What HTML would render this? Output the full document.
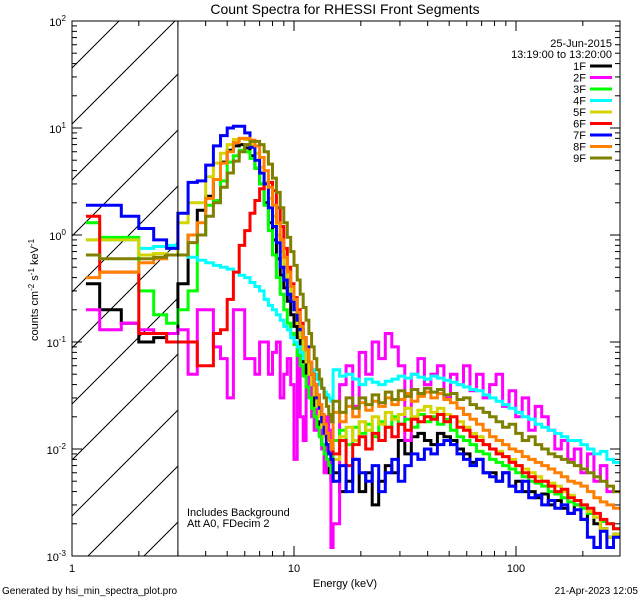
<!DOCTYPE html>
<html><head><meta charset="utf-8">
<style>
html,body{margin:0;padding:0;background:#fff;}
svg{display:block;font-family:"Liberation Sans","DejaVu Sans",sans-serif;}
</style></head>
<body>
<svg id="chart" width="640" height="600" viewBox="0 0 640 600" xmlns="http://www.w3.org/2000/svg">
<rect x="0" y="0" width="640" height="600" fill="#fff"/>
<text x="345" y="14" font-size="14" text-anchor="middle">Count Spectra for RHESSI Front Segments</text>
<defs><clipPath id="hatchClip"><rect x="72" y="21" width="106" height="535"/></clipPath>
<clipPath id="plotClip"><rect x="72" y="21" width="548" height="535"/></clipPath></defs>
<g id="hatch" clip-path="url(#hatchClip)"></g>
<g id="series" clip-path="url(#plotClip)"></g>
<g id="axes"></g>
<text x="612" y="47" font-size="11" text-anchor="end">25-Jun-2015</text>
<text x="612" y="58" font-size="11" text-anchor="end">13:19:00 to 13:20:00</text>
<g id="legend"></g>
<text x="187" y="516" font-size="11">Includes Background</text>
<text x="187" y="527" font-size="11">Att A0, FDecim 2</text>
<text x="345" y="587" font-size="11" text-anchor="middle">Energy (keV)</text>
<text transform="translate(38,290) rotate(-90)" font-size="11" text-anchor="middle">counts cm<tspan dy="-4" font-size="8">-2</tspan><tspan dy="4"> s</tspan><tspan dy="-4" font-size="8">-1</tspan><tspan dy="4"> keV</tspan><tspan dy="-4" font-size="8">-1</tspan></text>
<text x="2" y="594" font-size="10">Generated by hsi_min_spectra_plot.pro</text>
<text x="638" y="594" font-size="10" text-anchor="end">21-Apr-2023 12:05</text>
</svg>
<script>
const seriesNames = ["1F","2F","3F","4F","5F","6F","7F","8F","9F"];
const seriesColors = ["#000000","#ff00ff","#00ff00","#00ffff","#d4d400","#ff0000","#0000ff","#ff8000","#808000"];
const xTickValues = [1,10,100];
const xTickLabels = ["1","10","100"];
const yTickExponents = [-3,-2,-1,0,1,2];
const lowEdges = [1.155,1.333,1.667,2,2.333,2.667,3];
const s1F = [0.35,0.2,0.15,0.1,0.11,0.12, 0.35,1.0,1.7,2.3,3.3,4.8,6.2,6.8,7.0,6.5,5.5,4.2,3.0,2.0,1.3,0.9,0.6,0.42,0.32,0.24,0.18,0.14,0.11,0.085,0.065,0.05,0.038,0.03,0.023,0.018,0.014,0.011,0.009,0.007,0.006,0.005,
0.006,0.004,0.005,0.008,0.004,0.006,0.003,0.005,0.007,0.006,0.012,0.009,0.013,0.014,0.012,0.011,0.014,0.013,0.012,0.01,0.009,0.0075,0.008,0.006,0.006,0.005,0.006,0.0045,0.005,0.004,0.004,0.0035,0.0038,0.003,0.0033,0.0028,0.0025,0.003,0.0022,0.0025,0.002,0.0018,0.0015,0.0016];
const s2F = [0.2,0.13,0.15,0.13,0.12,0.12, 0.13,0.05,0.2,0.2,0.09,0.07,0.03,0.2,0.2,0.07,0.07,0.05,0.1,0.1,0.05,0.08,0.1,0.03,0.05,0.07,0.04,0.008,0.08,0.02,0.012,0.04,0.06,0.02,0.015,0.03,0.02,0.01,0.006,0.02,0.015,0.0012,
0.002,0.04,0.06,0.025,0.08,0.05,0.1,0.07,0.12,0.09,0.06,0.012,0.05,0.07,0.04,0.05,0.06,0.03,0.05,0.04,0.06,0.035,0.05,0.03,0.04,0.05,0.025,0.035,0.02,0.03,0.015,0.025,0.02,0.015,0.01,0.012,0.008,0.01,0.006,0.009,0.005,0.007,0.004,0.004];
const s3F = [1.3,0.95,0.95,0.3,0.18,0.15, 0.2,0.3,1.0,1.9,2.1,3.2,4.8,5.5,6.2,6.0,5.2,4.2,3.0,1.9,1.1,0.65,0.4,0.28,0.2,0.15,0.12,0.095,0.075,0.06,0.048,0.038,0.03,0.024,0.02,0.016,0.013,0.011,0.009,0.008,0.007,0.006,
0.012,0.015,0.011,0.016,0.014,0.017,0.013,0.018,0.016,0.02,0.017,0.019,0.016,0.021,0.018,0.02,0.017,0.019,0.015,0.013,0.012,0.011,0.0095,0.009,0.008,0.0075,0.007,0.0065,0.006,0.0055,0.005,0.0048,0.0045,0.004,0.0038,0.0035,0.0032,0.003,0.0028,0.0025,0.0023,0.0021,0.002,0.0018];
const s4F = [0.9,0.9,0.9,0.75,0.78,0.8, 0.65,0.62,0.58,0.55,0.52,0.5,0.48,0.45,0.42,0.4,0.36,0.33,0.3,0.25,0.22,0.2,0.18,0.16,0.14,0.13,0.11,0.1,0.09,0.08,0.07,0.065,0.06,0.055,0.05,0.045,0.04,0.037,0.034,0.032,0.03,0.028,
0.055,0.048,0.05,0.045,0.04,0.045,0.042,0.04,0.043,0.045,0.048,0.046,0.05,0.047,0.045,0.048,0.046,0.044,0.042,0.04,0.038,0.036,0.035,0.032,0.03,0.028,0.026,0.024,0.022,0.02,0.019,0.017,0.016,0.015,0.014,0.013,0.012,0.012,0.011,0.01,0.009,0.0095,0.008,0.0075];
const s5F = [0.9,0.9,0.9,0.65,0.67,0.65, 1.3,2.0,2.0,3.5,4.7,5.8,7.0,7.8,8.0,7.8,7.0,5.8,4.3,3.1,2.2,1.5,1.0,0.7,0.5,0.36,0.27,0.2,0.15,0.11,0.085,0.065,0.05,0.04,0.032,0.025,0.02,0.016,0.013,0.011,0.009,0.008,
0.008,0.013,0.016,0.012,0.018,0.015,0.02,0.017,0.022,0.019,0.021,0.024,0.02,0.023,0.025,0.022,0.024,0.021,0.02,0.018,0.016,0.014,0.013,0.011,0.01,0.0095,0.0085,0.008,0.007,0.0065,0.006,0.0055,0.005,0.0048,0.0045,0.004,0.0037,0.0033,0.003,0.0026,0.0023,0.0018,0.0015,0.0016];
const s6F = [1.5,0.45,0.45,0.12,0.12,0.1, 0.1,0.1,0.06,0.06,0.12,0.13,0.25,0.45,0.8,1.1,1.6,2.1,2.7,3.0,3.1,2.6,1.8,1.2,0.75,0.5,0.35,0.26,0.2,0.15,0.11,0.085,0.065,0.05,0.04,0.032,0.026,0.021,0.017,0.014,0.012,0.01,
0.009,0.012,0.007,0.011,0.013,0.01,0.014,0.012,0.016,0.013,0.017,0.015,0.019,0.018,0.02,0.019,0.021,0.018,0.02,0.016,0.015,0.013,0.012,0.011,0.01,0.009,0.0085,0.0075,0.007,0.006,0.0055,0.005,0.005,0.0045,0.004,0.0042,0.0035,0.0033,0.003,0.0028,0.0025,0.0022,0.002,0.0018];
const s7F = [1.9,1.9,1.5,1.15,0.9,0.75, 1.6,3.1,3.2,4.5,6.8,8.5,10,10.4,10.4,9,6.6,5,3.8,3,1.8,1.2,0.85,0.5,0.38,0.28,0.24,0.2,0.16,0.13,0.11,0.09,0.065,0.05,0.04,0.03,0.024,0.018,0.014,0.011,0.009,0.008,
0.005,0.007,0.004,0.008,0.006,0.005,0.007,0.004,0.006,0.008,0.005,0.007,0.009,0.008,0.01,0.009,0.011,0.012,0.011,0.009,0.008,0.007,0.008,0.006,0.0055,0.005,0.006,0.0045,0.004,0.005,0.0035,0.0037,0.003,0.0033,0.0028,0.003,0.0025,0.0027,0.0022,0.0015,0.0012,0.0017,0.0012,0.0015];
const s8F = [0.4,0.45,0.45,0.55,0.6,0.65, 0.65,1.0,1.3,2.2,3.3,4.7,6.0,7.3,8.0,8.0,7.7,6.8,5.3,4.0,2.8,1.9,1.3,0.9,0.62,0.45,0.33,0.25,0.19,0.14,0.11,0.085,0.065,0.05,0.04,0.032,0.026,0.021,0.017,0.014,0.012,0.01,
0.022,0.018,0.025,0.02,0.027,0.023,0.028,0.025,0.03,0.026,0.029,0.033,0.028,0.031,0.034,0.03,0.033,0.029,0.027,0.024,0.021,0.019,0.017,0.015,0.013,0.012,0.011,0.01,0.0095,0.0085,0.008,0.0075,0.007,0.0065,0.006,0.0055,0.005,0.0048,0.0045,0.004,0.0035,0.0032,0.003,0.0028];
const s9F = [0.65,0.6,0.6,0.6,0.62,0.65, 0.65,0.85,1.0,1.5,2.0,2.8,3.8,4.9,6.0,7.0,7.5,7.5,7.0,6.0,4.6,3.4,2.5,1.8,1.3,0.95,0.7,0.52,0.38,0.28,0.21,0.16,0.12,0.09,0.07,0.055,0.045,0.037,0.03,0.025,0.021,0.018,
0.028,0.022,0.03,0.024,0.03,0.026,0.032,0.027,0.034,0.029,0.035,0.031,0.036,0.033,0.037,0.034,0.036,0.032,0.033,0.029,0.03,0.026,0.024,0.022,0.02,0.018,0.016,0.017,0.014,0.012,0.013,0.011,0.01,0.009,0.0085,0.008,0.0075,0.007,0.0065,0.006,0.0055,0.005,0.0045,0.004];
const seriesValues = [s1F,s2F,s3F,s4F,s5F,s6F,s7F,s8F,s9F];

// bin grid: low edges, 1/3 keV bins 3-15, then log bins 15-294
const edges = lowEdges.slice();
for (let i = 1; i <= 36; i++) edges.push(3 + i / 3);
for (let i = 1; i <= 44; i++) edges.push(15 * Math.pow(294 / 15, i / 44));

const NS = "http://www.w3.org/2000/svg";
const X0 = 72, X1 = 620, Y0 = 21, Y1 = 556;
const decX = 222, decY = (Y1 - Y0) / 5;
const xScale = e => X0 + Math.log10(e) * decX;
const yScale = v => Y0 + (2 - Math.log10(Math.max(v, 1e-4))) * decY;
function mk(tag, attrs, parent) { const el = document.createElementNS(NS, tag); for (const k in attrs) el.setAttribute(k, attrs[k]); parent.appendChild(el); return el; }

const hatch = document.getElementById('hatch');
for (let b = -600; b < 200; b += 56) {
  const ln = mk('line', {x1: X0 + b, y1: Y1, x2: X0 + b + 600, y2: Y1 - 600, stroke: '#000', 'stroke-width': 1}, hatch);
  
  
}
const bound = mk('line', {x1: xScale(3), y1: Y0, x2: xScale(3), y2: Y1, stroke: '#000', 'stroke-width': 1}, document.getElementById('axes'));



const sg = document.getElementById('series');
seriesValues.forEach((vals, si) => {
  let d = '';
  for (let i = 0; i < vals.length; i++) {
    const xa = xScale(edges[i]), xb = xScale(edges[i + 1]), y = yScale(vals[i]);
    d += (i === 0 ? 'M' : 'L') + xa.toFixed(1) + ',' + y.toFixed(1) + 'L' + xb.toFixed(1) + ',' + y.toFixed(1);
  }
  const p = mk('path', {d: d, fill: 'none', stroke: seriesColors[si], 'stroke-width': 3, 'stroke-linejoin': 'miter'}, sg);
  
  
});

const ax = document.getElementById('axes');
const frame = mk('rect', {x: X0, y: Y0, width: X1 - X0, height: Y1 - Y0, fill: 'none', stroke: '#000', 'stroke-width': 1}, ax);


for (let dec = 0; dec < 3; dec++) {
  for (let m = 1; m <= 9; m++) {
    const e = Math.pow(10, dec) * m; if (e > 294) break;
    const x = xScale(e), len = m === 1 ? 10 : 5;
    const t1 = mk('line', {x1: x, y1: Y1, x2: x, y2: Y1 - len, stroke: '#000'}, ax);
    
    
    const t2 = mk('line', {x1: x, y1: Y0, x2: x, y2: Y0 + len, stroke: '#000'}, ax);
    
    
  }
}
xTickValues.forEach((v, i) => {
  const t = mk('text', {x: xScale(v), y: 572, 'font-size': 11, 'text-anchor': 'middle'}, ax);
  t.textContent = xTickLabels[i];
  
  
});
yTickExponents.forEach(ex => {
  for (let m = 1; m <= 9; m++) {
    if (ex === 2 && m > 1) break;
    const y = yScale(Math.pow(10, ex) * m), len = m === 1 ? 10 : 5;
    const t1 = mk('line', {x1: X0, y1: y, x2: X0 + len, y2: y, stroke: '#000'}, ax);
    
    
    const t2 = mk('line', {x1: X1, y1: y, x2: X1 - len, y2: y, stroke: '#000'}, ax);
    
    
  }
  const y = yScale(Math.pow(10, ex));
  const t = mk('text', {x: 66, y: y + 5, 'font-size': 11, 'text-anchor': 'end'}, ax);
  
  
  const base = document.createElementNS(NS, 'tspan'); base.textContent = '10'; t.appendChild(base);
  const sup = document.createElementNS(NS, 'tspan'); sup.setAttribute('dy', '-5'); sup.setAttribute('font-size', '8'); sup.textContent = String(ex); t.appendChild(sup);
});

const lg = document.getElementById('legend');
seriesNames.forEach((n, i) => {
  const y = 66 + i * 11.5;
  const t = mk('text', {x: 586, y: y + 4, 'font-size': 11, 'text-anchor': 'end'}, lg);
  t.textContent = n;
  
  
  const l = mk('line', {x1: 590, y1: y, x2: 612, y2: y, stroke: seriesColors[i], 'stroke-width': 3}, lg);
  
  
});
</script>
</body></html>
